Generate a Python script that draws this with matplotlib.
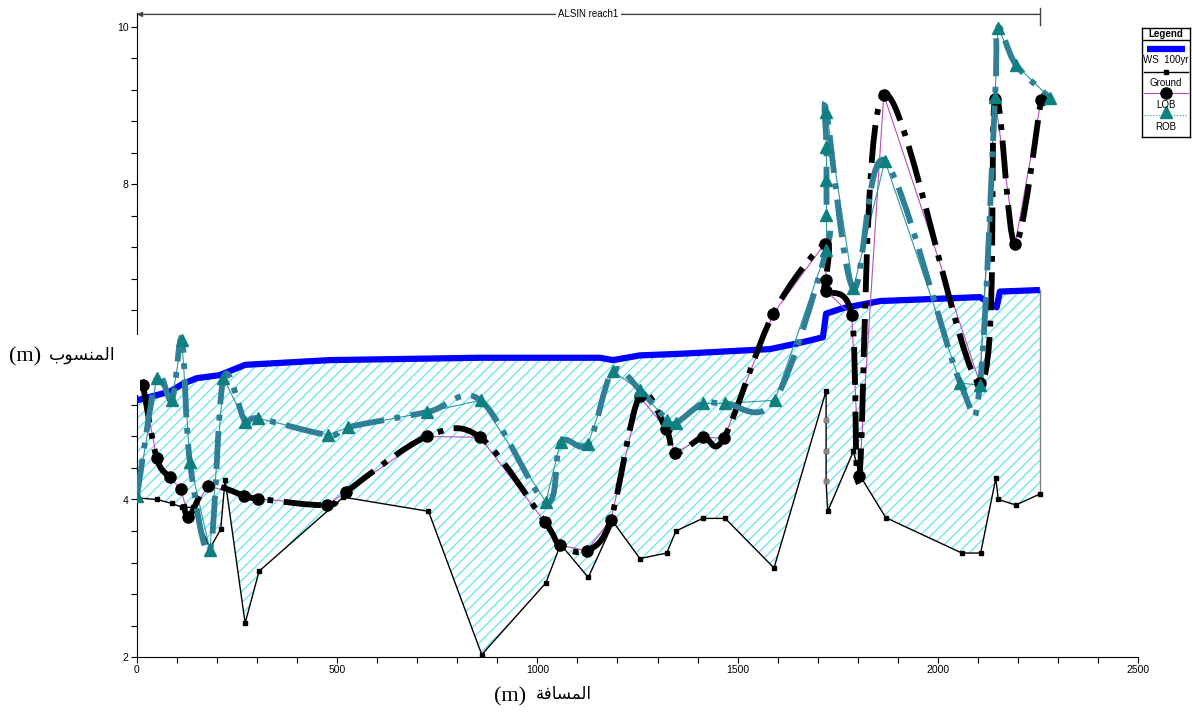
import numpy as np
import matplotlib
matplotlib.use("Agg")
import matplotlib.pyplot as plt
from matplotlib.path import Path
from matplotlib.patches import PathPatch, Rectangle
from matplotlib.ticker import MultipleLocator

# profile along the reach: station (m) and elevation (m)
ground_x = [0, 50, 87, 113, 139, 182, 209, 220, 270, 305, 515, 728, 861, 1021, 1058, 1127,
            1190, 1256, 1323, 1346, 1413, 1469, 1591, 1721, 1721, 1721, 1721, 1725, 1789,
            1806, 1870, 2060, 2107, 2145, 2151, 2195, 2255]
ground_y = [4.02, 4.00, 3.95, 3.90, 3.90, 3.38, 3.62, 4.25, 2.43, 3.09, 4.03, 3.85, 2.03, 2.94,
            3.43, 3.01, 3.71, 3.25, 3.32, 3.60, 3.76, 3.76, 3.13, 5.38, 5.01, 4.62, 4.23, 3.85,
            4.61, 4.30, 3.77, 3.32, 3.32, 4.27, 4.00, 3.93, 4.07]

ws_x = [0, 82, 115, 149, 207, 270, 482, 857, 1156, 1189, 1256, 1356, 1506, 1581, 1656, 1713,
        1721, 1763, 1856, 2105, 2147, 2155, 2255]
ws_y = [5.26, 5.37, 5.47, 5.54, 5.58, 5.71, 5.77, 5.80, 5.80, 5.77, 5.83, 5.85, 5.89, 5.91,
        5.99, 6.06, 6.36, 6.43, 6.52, 6.57, 6.44, 6.64, 6.66]

lob_x = [15, 49, 82, 110, 128, 178, 267, 303, 475, 522, 724, 857, 1018, 1057, 1123, 1183,
         1255, 1321, 1344, 1413, 1466, 1589, 1718, 1721, 1721, 1785, 1804, 1865, 2105, 2143,
         2193, 2258]
lob_y = [5.45, 4.53, 4.28, 4.13, 3.78, 4.17, 4.05, 4.01, 3.93, 4.10, 4.80, 4.79, 3.72, 3.42,
         3.35, 3.74, 5.31, 4.90, 4.59, 4.79, 4.78, 6.36, 7.25, 6.79, 6.65, 6.34, 4.30, 9.14,
         5.48, 9.09, 7.24, 9.07]

rob_x = [0, 49, 87, 112, 132, 182, 216, 270, 302, 478, 528, 725, 858, 1021, 1058, 1127, 1188,
         1256, 1323, 1346, 1413, 1469, 1593, 1722, 1722, 1722, 1722, 1722, 1789, 1868, 2056,
         2105, 2143, 2150, 2195, 2280]
rob_y = [4.04, 5.54, 5.26, 6.03, 4.48, 3.36, 5.54, 4.99, 5.03, 4.82, 4.92, 5.11, 5.26, 3.97,
         4.73, 4.71, 5.63, 5.39, 5.01, 4.97, 5.22, 5.22, 5.26, 7.17, 7.61, 8.06, 8.48, 8.92,
         6.68, 8.30, 5.48, 5.45, 9.11, 9.99, 9.52, 9.10]

reach_name = "ALSIN reach1"
xticks = [0, 500, 1000, 1500, 2000, 2500]
yticks = [2, 4, 6, 8, 10]

narrow = ["Liberation Sans Narrow", "Liberation Sans", "DejaVu Sans"]
plt.rcParams["font.family"] = narrow
plt.rcParams["hatch.linewidth"] = 0.9


def smooth(xs, ys):
    # Catmull-Rom through the points, as cubic bezier segments
    pts = np.column_stack([xs, ys]).astype(float)
    p = np.vstack([pts[0], pts, pts[-1]])
    verts = [pts[0]]
    codes = [Path.MOVETO]
    for i in range(1, len(p) - 2):
        p0, p1, p2, p3 = p[i - 1], p[i], p[i + 1], p[i + 2]
        verts += [p1 + (p2 - p0) / 6.0, p2 - (p3 - p1) / 6.0, p2]
        codes += [Path.CURVE4] * 3
    return Path(verts, codes)


fig = plt.figure(figsize=(11.92, 7.15), dpi=100)
ax = fig.add_axes([137 / 1192, 1 - 657 / 715, 1001 / 1192, 644 / 715])
ax.set_xlim(0, 2500)
ax.set_ylim(2, 2 + 644 / 78.75)

# wetted area between water surface and ground
poly_x = list(ws_x) + ground_x[::-1]
poly_y = list(ws_y) + ground_y[::-1]
ax.fill(poly_x, poly_y, facecolor="none", edgecolor="#62E4F2", hatch="///", linewidth=0, zorder=1)
ax.plot([ws_x[-1], ws_x[-1]], [ground_y[-1], ws_y[-1]], color="#808080", lw=1, zorder=2)

ax.plot(ground_x, ground_y, color="black", lw=1, marker="s", ms=3, zorder=3)
ax.plot(ground_x[24:27], ground_y[24:27], ls="none", marker="s", ms=3, color="#888888", zorder=4)
ax.plot(ws_x, ws_y, color="#0000FF", lw=4.5, solid_capstyle="butt", zorder=4)

ax.plot(lob_x, lob_y, color="#B84CC0", lw=0.8, zorder=5)
ax.plot(rob_x, rob_y, color="#2C9A9A", lw=0.8, zorder=5)

dashdot = (0, (6.5, 1.8, 1, 1.8))
ax.add_patch(PathPatch(smooth(lob_x, lob_y), fill=False, edgecolor="black", lw=4.2,
                       linestyle=dashdot, capstyle="butt", zorder=6))
ax.add_patch(PathPatch(smooth(rob_x, rob_y), fill=False, edgecolor="#2F7F96", lw=4.2,
                       linestyle=dashdot, capstyle="butt", zorder=6))

ax.plot(lob_x, lob_y, ls="none", marker="o", ms=8, color="black", zorder=7)
ax.plot(rob_x, rob_y, ls="none", marker="^", ms=8.5, color="#0E8080", zorder=7)

# axes
for s in ("top", "right"):
    ax.spines[s].set_visible(False)
ax.set_xticks(xticks)
ax.set_yticks(yticks)
ax.xaxis.set_minor_locator(MultipleLocator(100))
ax.yaxis.set_minor_locator(MultipleLocator(0.4))
ax.tick_params(which="both", direction="out", length=4, width=0.8, labelsize=7.5, pad=2)

# reach extent marker along the top
ytop = 10.16
ax.annotate("", xy=(0, ytop), xytext=(ws_x[-1], ytop), annotation_clip=False,
            arrowprops=dict(arrowstyle="-|>", color="#404040", lw=1, mutation_scale=7,
                            shrinkA=0, shrinkB=0))
ax.plot([ws_x[-1], ws_x[-1]], [10.03, 10.24], color="#404040", lw=1, clip_on=False)
ax.text(ws_x[-1] / 2, ytop, reach_name, ha="center", va="center", fontsize=7,
        bbox=dict(facecolor="white", edgecolor="none", pad=1.5), clip_on=False)

# axis titles (arabic in shaped presentation forms)
fig.add_artist(Rectangle((0, 1 - 395 / 715), 140 / 1192, 60 / 715, transform=fig.transFigure,
                         facecolor="white", edgecolor="none", zorder=5))
fig.text(9 / 1192, 1 - 357 / 715, "(m)", family="Liberation Serif", fontsize=16,
         ha="left", va="center", zorder=6)
fig.text(115 / 1192, 1 - 355 / 715, "\uFE8F\uFEEE\uFEB4\uFEE8\uFEE4\uFEDF\uFE8D",
         family="DejaVu Sans", fontsize=12.5, ha="right", va="center", zorder=6)
fig.text(494 / 1192, 1 - 697 / 715, "(m)", family="Liberation Serif", fontsize=16,
         ha="left", va="center")
fig.text(592 / 1192, 1 - 694 / 715, "\uFE94\uFED3\uFE8E\uFEB4\uFEE4\uFEDF\uFE8D",
         family="DejaVu Sans", fontsize=12, ha="right", va="center")

# legend box
lg = fig.add_axes([1142 / 1192, 1 - 137 / 715, 48 / 1192, 109 / 715])
lg.set_xlim(0, 1)
lg.set_ylim(137, 28)
lg.set_xticks([])
lg.set_yticks([])
for s in lg.spines.values():
    s.set_linewidth(1)
lg.axhline(40, color="black", lw=1)
lg.text(0.5, 34, "Legend", ha="center", va="center", fontsize=7, fontweight="bold")
lg.plot([0.1, 0.9], [48.5, 48.5], color="#0000FF", lw=4.5, solid_capstyle="butt")
lg.text(0.5, 60, "WS  100yr", ha="center", va="center", fontsize=7)
lg.plot([0.05, 0.95], [71.5, 71.5], color="black", lw=1)
lg.plot([0.5], [71.5], marker="s", ms=3, color="black")
lg.text(0.5, 83, "Ground", ha="center", va="center", fontsize=7)
lg.plot([0.05, 0.95], [93, 93], color="#B84CC0", lw=0.8)
lg.plot([0.5], [93], marker="o", ms=8, color="black")
lg.text(0.5, 105, "LOB", ha="center", va="center", fontsize=7)
lg.plot([0.05, 0.95], [115, 115], color="#2C9A9A", lw=0.8, ls=":")
lg.plot([0.5], [112], marker="^", ms=9, color="#0E8080")
lg.text(0.5, 127, "ROB", ha="center", va="center", fontsize=7)

fig.savefig("out.png", dpi=100)
